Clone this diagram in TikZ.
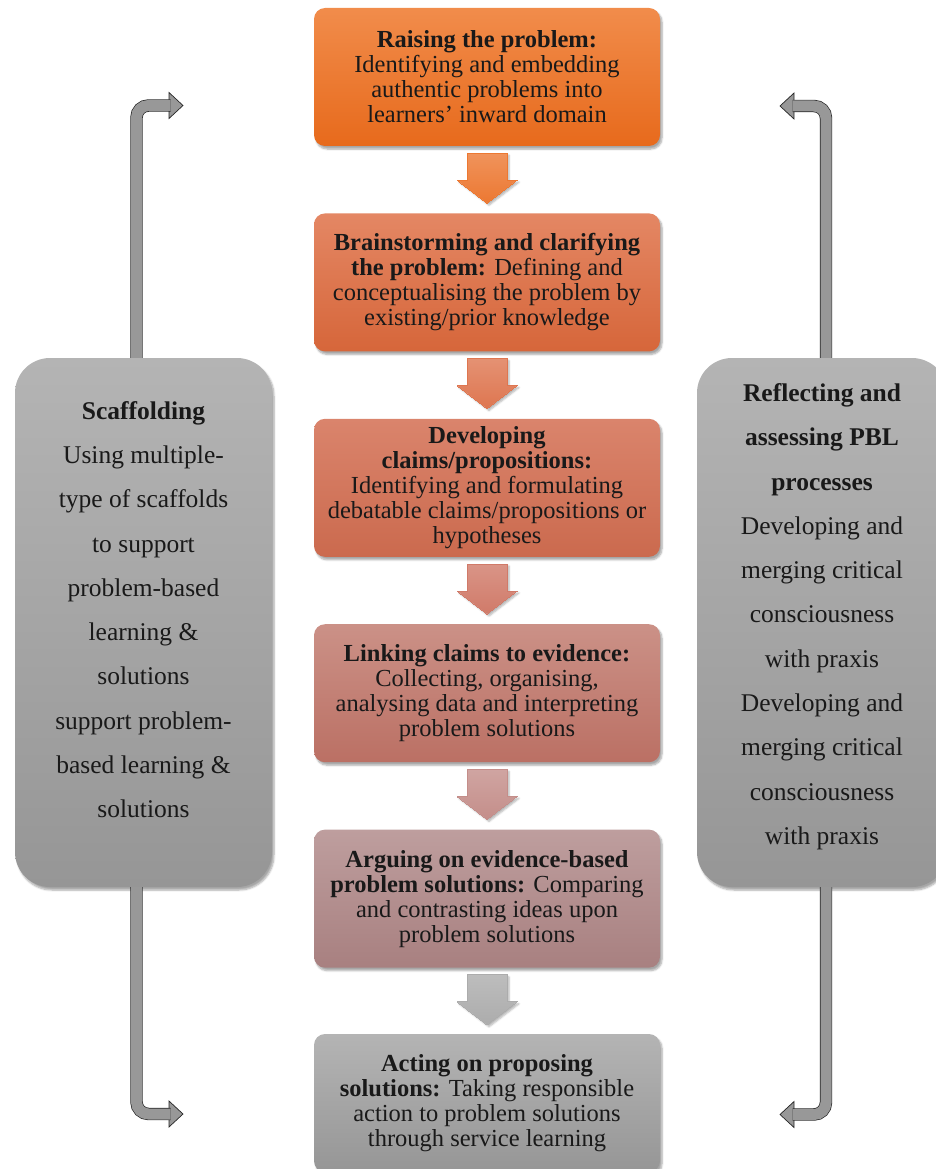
\documentclass[tikz,border=0pt]{standalone}
\usepackage{fontspec}
\setmainfont{Liberation Serif}
\usepackage{xcolor}
\definecolor{mystageonetop}{RGB}{241,140,75}
\definecolor{mystageonebot}{RGB}{231,106,28}
\definecolor{mystagetwotop}{RGB}{228,135,100}
\definecolor{mystagetwobot}{RGB}{214,102,58}
\definecolor{mystagethreetop}{RGB}{218,132,108}
\definecolor{mystagethreebot}{RGB}{203,106,78}
\definecolor{mystagefourtop}{RGB}{203,145,135}
\definecolor{mystagefourbot}{RGB}{187,112,100}
\definecolor{mystagefivetop}{RGB}{190,158,158}
\definecolor{mystagefivebot}{RGB}{168,128,128}
\definecolor{mygreytop}{RGB}{180,180,180}
\definecolor{mygreybot}{RGB}{150,150,150}
\definecolor{myarrowone}{RGB}{236,120,50}
\definecolor{myarrowtwo}{RGB}{222,118,80}
\definecolor{myarrowthree}{RGB}{208,122,105}
\definecolor{myarrowfour}{RGB}{196,142,138}
\definecolor{myarrowfive}{RGB}{172,172,172}
\definecolor{mysidearrow}{RGB}{152,152,152}
\usepackage{tikz}
\usetikzlibrary{calc}
\usetikzlibrary{positioning}
\usetikzlibrary{shadows.blur}
\newcommand{\stagefont}{\fontsize{24.5}{25}\selectfont}
\newcommand{\sidefont}{\fontsize{25.5}{44.3}\selectfont}
\newcommand{\stagearrow}[3]{%
    \path[flowarrow, top color=#2!80!white, bottom color=#2, draw=#3]
        ($(#1.south)+(-20,7)$) -- ++(40,0) -- ++(0,27) -- ++(10,0)
        -- ++(-30,23) -- ++(-30,-23) -- ++(10,0) -- cycle;
}
\tikzset{
    common/.style={draw=none, align=center, text=black!90,
        blur shadow={shadow xshift=2pt, shadow yshift=-3pt, shadow blur steps=6, shadow opacity=35}},
    stage/.style={common, minimum width=346pt, minimum height=138pt, rounded corners=11pt, font=\stagefont},
    sidebox/.style={common, minimum height=529pt, rounded corners=35pt, font=\sidefont,
        top color=mygreytop, bottom color=mygreybot},
    flowarrow/.style={line width=0pt,
        blur shadow={shadow xshift=2pt, shadow yshift=-2pt, shadow blur steps=5, shadow opacity=30}},
    sidebar/.style={draw=black!85, line width=0.7pt, double=mysidearrow, double distance=11pt, rounded corners=12pt},
    sidehead/.style={draw=black!85, line width=0.7pt, fill=mysidearrow, line join=miter}
}
\begin{document}
\begin{tikzpicture}[x=1pt, y=-1pt]
    \useasboundingbox (0,0) rectangle (935,1169);

    % stages of the cycle
    \node[stage, top color=mystageonetop, bottom color=mystageonebot] (raise) at (487,77)
        {\textbf{Raising the problem:}\\ Identifying and embedding\\ authentic problems into\\ learners' inward domain};
    \node[stage, top color=mystagetwotop, bottom color=mystagetwobot, below=67pt of raise] (brainstorm)
        {\textbf{Brainstorming and clarifying}\\ \textbf{the problem:} Defining and\\ conceptualising the problem by\\ existing/prior knowledge};
    \node[stage, top color=mystagethreetop, bottom color=mystagethreebot, below=67pt of brainstorm] (claims)
        {\textbf{Developing}\\ \textbf{claims/propositions:}\\ Identifying and formulating\\ debatable claims/propositions or\\ hypotheses};
    \node[stage, top color=mystagefourtop, bottom color=mystagefourbot, below=67pt of claims] (evidence)
        {\textbf{Linking claims to evidence:}\\ Collecting, organising,\\ analysing data and interpreting\\ problem solutions};
    \node[stage, top color=mystagefivetop, bottom color=mystagefivebot, below=67pt of evidence] (argue)
        {\textbf{Arguing on evidence-based}\\ \textbf{problem solutions:} Comparing\\ and contrasting ideas upon\\ problem solutions};
    \node[stage, top color=mygreytop, bottom color=mygreybot, below=66pt of argue] (act)
        {\textbf{Acting on proposing}\\ \textbf{solutions:} Taking responsible\\ action to problem solutions\\ through service learning};

    \foreach \from/\col/\edge in {raise/myarrowone/myarrowone, brainstorm/myarrowtwo/myarrowtwo,
            claims/myarrowthree/myarrowthree, evidence/myarrowfour/myarrowfour, argue/myarrowfive/myarrowfive}
        \stagearrow{\from}{\col}{\edge};

    % side boxes
    \node[sidebox, minimum width=257pt, text depth=26pt] (scaffold) at (143.5,622.5)
        {\textbf{Scaffolding}\\ Using multiple-\\ type of scaffolds\\ to support\\ problem-based\\ learning \&\\ solutions\\ support problem-\\ based learning \&\\ solutions};
    \node[sidebox, minimum width=250pt, text depth=17pt] (reflect) at (822,622.5)
        {\textbf{Reflecting and}\\ \textbf{assessing PBL}\\ \textbf{processes}\\ Developing and\\ merging critical\\ consciousness\\ with praxis\\ Developing and\\ merging critical\\ consciousness\\ with praxis};

    % bent arrows leaving the side boxes
    \coordinate (lt-head) at (169,105.5);
    \coordinate (lb-head) at (169,1114);
    \coordinate (rt-head) at (794,106);
    \coordinate (rb-head) at (794,1114.5);
    \draw[sidehead] (lt-head) -- ++(0,-13) -- ++(14,13) -- ++(-14,13) -- cycle;
    \draw[sidehead] (lb-head) -- ++(0,-13) -- ++(14,13) -- ++(-14,13) -- cycle;
    \draw[sidehead] (rt-head) -- ++(0,-13) -- ++(-14,13) -- ++(14,13) -- cycle;
    \draw[sidehead] (rb-head) -- ++(0,-13) -- ++(-14,13) -- ++(14,13) -- cycle;
    \draw[sidebar] ($(scaffold.north)+(-7,0)$) |- ($(lt-head)+(1.5,0)$);
    \draw[sidebar] ($(scaffold.south)+(-7,0)$) |- ($(lb-head)+(1.5,0)$);
    \draw[sidebar] ($(reflect.north)+(4,0)$) |- ($(rt-head)+(-1.5,0)$);
    \draw[sidebar] ($(reflect.south)+(4,0)$) |- ($(rb-head)+(-1.5,0)$);
\end{tikzpicture}
\end{document}
